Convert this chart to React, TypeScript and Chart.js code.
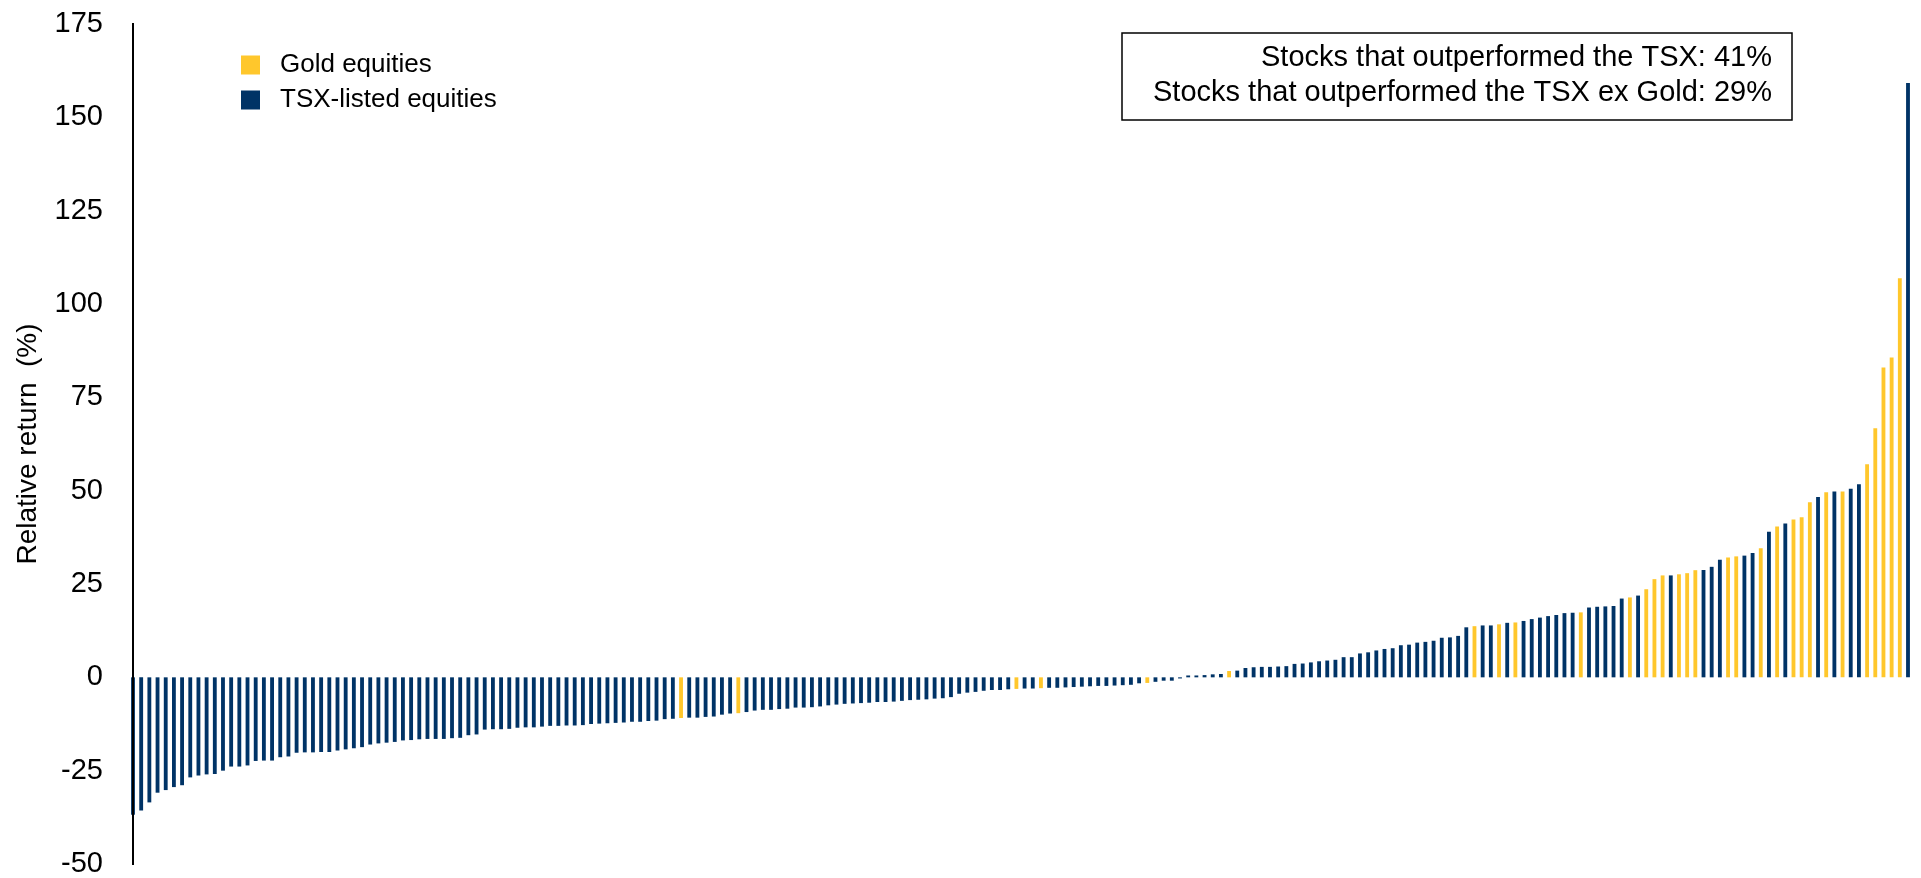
import { useEffect, useRef } from "react";
import { Chart, registerables } from "chart.js";

Chart.register(...registerables);

// Relative return (%) of every TSX-listed stock, ranked from worst to best
const relativeReturns: number[] = [
  // ranks 1-39
  -36.8, -35.7, -33.5, -30.9, -30.2, -29.4, -28.9, -26.8, -26.3, -26.0,
  -25.9, -25.0, -23.9, -23.9, -23.6, -22.4, -22.3, -22.3, -21.4, -21.2,
  -20.2, -20.1, -20.1, -20.0, -20.0, -19.6, -19.3, -19.0, -18.7, -18.0,
  -17.7, -17.5, -17.3, -16.9, -16.8, -16.6, -16.5, -16.5, -16.5,
  // ranks 40-77
  -16.3, -16.2, -15.5, -15.3, -14.0, -13.9, -13.9, -13.8, -13.5, -13.4,
  -13.4, -13.2, -13.0, -13.0, -12.9, -12.9, -12.8, -12.5, -12.4, -12.3,
  -12.2, -12.1, -11.9, -11.9, -11.7, -11.6, -11.2, -11.1, -10.9, -10.8,
  -10.8, -10.6, -10.5, -10.0, -9.7, -9.6, -9.3, -8.9,
  // ranks 78-115
  -8.7, -8.7, -8.5, -8.4, -8.1, -8.1, -8.0, -7.8, -7.5, -7.3,
  -7.1, -7.0, -6.9, -6.8, -6.6, -6.6, -6.5, -6.3, -6.1, -6.0,
  -5.9, -5.7, -5.6, -5.3, -4.4, -4.1, -3.9, -3.6, -3.4, -3.4,
  -3.2, -3.1, -3.0, -3.0, -2.9, -2.8, -2.8, -2.7,
  // ranks 116-153
  -2.6, -2.5, -2.4, -2.3, -2.3, -2.2, -2.1, -2.0, -1.6, -1.5,
  -1.2, -0.9, -0.9, -0.3, 0.5, 0.5, 0.6, 0.8, 0.9, 1.7,
  1.8, 2.5, 2.7, 2.8, 2.8, 2.9, 3.0, 3.6, 3.7, 4.0,
  4.3, 4.5, 4.7, 5.4, 5.4, 6.4, 6.7, 7.2,
  // ranks 154-191
  7.6, 7.8, 8.6, 8.75, 9.3, 9.5, 9.8, 10.6, 10.7, 11.1,
  13.4, 13.7, 13.9, 13.9, 14.2, 14.6, 14.7, 15.1, 15.6, 16.0,
  16.4, 16.7, 17.2, 17.3, 17.4, 18.7, 18.9, 19.0, 19.1, 21.1,
  21.4, 21.9, 23.6, 26.3, 27.3, 27.3, 27.6, 27.9,
  // ranks 192-218
  28.7, 28.75, 29.6, 31.5, 32.1, 32.4, 32.6, 33.3, 34.6, 39.0,
  40.4, 41.2, 42.3, 42.9, 46.9, 48.3, 49.6, 49.8, 49.8, 50.5,
  51.7, 57.1, 66.7, 83.0, 85.7, 106.9, 159.2,
];

// Zero-based positions (in relativeReturns) of the gold equities
const goldPositions: number[] = [
  67, 74, 108, 111, 124, 134, 164, 167, 169, 177, 183, 185, 186, 187, 189,
  190, 191, 195, 196, 199, 201, 203, 204, 205, 207, 209, 212, 213, 214, 215, 216,
];

const seriesLabels: string[] = ["Gold equities", "TSX-listed equities"];
const seriesColors: string[] = ["#FFC72C", "#003366"];

const yAxisTitle = "Relative return  (%)";
const yMin = -50;
const yMax = 175;
const yStep = 25;

const summaryLines: string[] = [
  "Stocks that outperformed the TSX: 41%",
  "Stocks that outperformed the TSX ex Gold: 29%",
];

const FONT = '"Liberation Sans", Arial, Helvetica, sans-serif';

// Draws the legend in the upper left and the framed summary in the upper right
const overlayPlugin = {
  id: "overlayPlugin",
  afterDraw(chart: any) {
    const { ctx } = chart;
    ctx.save();

    // legend
    ctx.font = `26px ${FONT}`;
    ctx.textAlign = "left";
    ctx.textBaseline = "middle";
    chart.data.datasets.forEach((ds: any, i: number) => {
      const cy = 65 + i * 35;
      ctx.fillStyle = ds.backgroundColor;
      ctx.fillRect(241, cy - 9.5, 19, 19);
      ctx.fillStyle = "#000";
      ctx.fillText(ds.label, 280, cy);
    });

    // summary box
    const bx = 1122;
    const by = 33;
    const bw = 670;
    const bh = 87;
    ctx.fillStyle = "#fff";
    ctx.fillRect(bx, by, bw, bh);
    ctx.strokeStyle = "#000";
    ctx.lineWidth = 1.5;
    ctx.strokeRect(bx, by, bw, bh);
    ctx.fillStyle = "#000";
    ctx.font = `29px ${FONT}`;
    ctx.textAlign = "right";
    summaryLines.forEach((line, i) => {
      ctx.fillText(line, bx + bw - 20, by + 25 + i * 34.5);
    });

    ctx.restore();
  },
};

export default function App() {
  const canvasRef = useRef<HTMLCanvasElement | null>(null);

  useEffect(() => {
    const canvas = canvasRef.current;
    if (!canvas) return;

    const goldSet = new Set(goldPositions);
    const labels = relativeReturns.map((_, i) => String(i + 1));
    const goldData = relativeReturns.map((v, i) => (goldSet.has(i) ? v : null));
    const tsxData = relativeReturns.map((v, i) => (goldSet.has(i) ? null : v));

    const barStyle = {
      borderWidth: 0,
      barPercentage: 0.47,
      categoryPercentage: 1,
      grouped: false,
      clip: false as const,
    };

    const chart = new Chart(canvas, {
      type: "bar",
      data: {
        labels,
        datasets: [
          {
            label: seriesLabels[0],
            data: goldData,
            backgroundColor: seriesColors[0],
            ...barStyle,
          },
          {
            label: seriesLabels[1],
            data: tsxData,
            backgroundColor: seriesColors[1],
            ...barStyle,
          },
        ],
      },
      options: {
        animation: false,
        responsive: true,
        maintainAspectRatio: false,
        layout: { padding: { top: 24, right: 13, bottom: 14, left: 0 } },
        plugins: {
          legend: { display: false },
          tooltip: { enabled: false },
        },
        scales: {
          x: {
            type: "category",
            display: false,
            offset: false,
          },
          y: {
            min: yMin,
            max: yMax,
            ticks: {
              stepSize: yStep,
              color: "#000",
              padding: 0,
              font: { family: FONT, size: 29, lineHeight: 0.9 },
            },
            grid: { display: false, drawTicks: true, tickLength: 30 },
            border: { display: true, color: "#000", width: 2, z: 1 },
            title: {
              display: true,
              text: yAxisTitle,
              color: "#000",
              font: { family: FONT, size: 28 },
              padding: { top: 11, bottom: 0 },
            },
            afterFit: (scale: any) => {
              scale.width = 133;
            },
          },
        },
      },
      plugins: [overlayPlugin],
    });

    return () => chart.destroy();
  }, []);

  return (
    <div
      style={{
        position: "fixed",
        left: 0,
        top: 0,
        width: "1921px",
        height: "878px",
        background: "#fff",
      }}
    >
      <canvas ref={canvasRef} />
    </div>
  );
}
